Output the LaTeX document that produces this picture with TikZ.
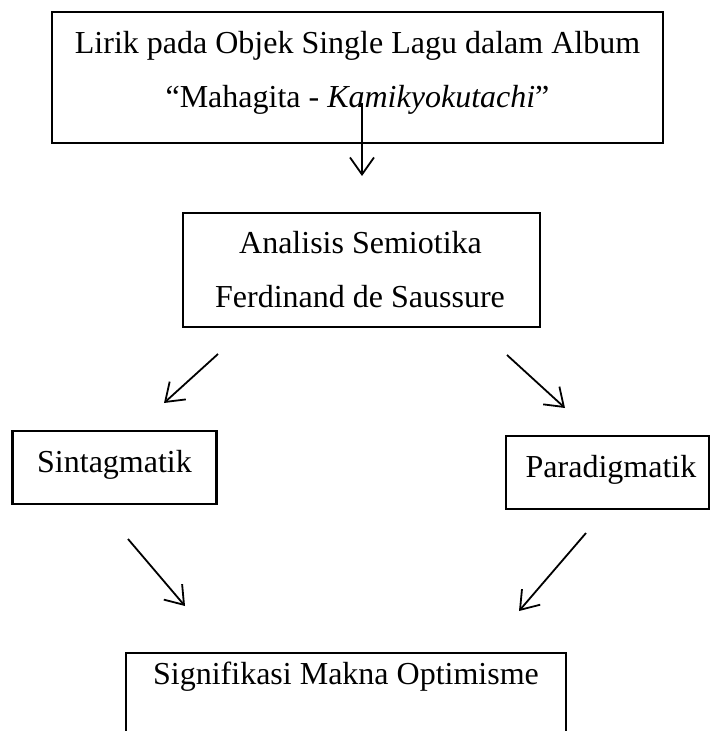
\documentclass[tikz,border=0pt]{standalone}
\usepackage{fontspec}
\setmainfont{Liberation Serif}
\usetikzlibrary{arrows.meta}
\begin{document}
\begin{tikzpicture}[x=1pt,y=-1pt,
  boxframe/.style={draw=black, line width=2.4pt, inner sep=0pt},
  label/.style={anchor=base, inner sep=0pt, font=\fontsize{32}{38}\selectfont},
  conn/.style={line width=1.8pt, -{Straight Barb[length=17pt,width=24pt,line width=1.8pt]}}]
\clip (0,0) rectangle (710,731);
\useasboundingbox (0,0) rectangle (710,731);
% boxes
\node[boxframe, minimum width=611pt, minimum height=131pt] (topbox) at (357.5,77.5) {};
\node[boxframe, minimum width=357pt, minimum height=114pt] (analisis) at (361.5,270) {};
\node[boxframe, minimum width=204pt, minimum height=73pt] (sint) at (114.5,467.5) {};
\node[boxframe, minimum width=203pt, minimum height=73pt] (para) at (607.5,472.5) {};
\node[boxframe, minimum width=440pt, minimum height=120pt] (sign) at (346,713) {};
% texts
\node[label] (t1) at (357.5,53) {Lirik pada Objek Single Lagu dalam Album};
\node[label] (t2) at (357.5,107) {“Mahagita - \textit{Kamikyokutachi}”};
\node[label] (t3) at (360.5,253) {Analisis Semiotika};
\node[label] (t4) at (360,307) {Ferdinand de Saussure};
\node[label] (t5) at (114.5,472) {Sintagmatik};
\node[label] (t6) at (611,477) {Paradigmatik};
\node[label] (t7) at (346,684) {Signifikasi Makna Optimisme};
% connector end points
\coordinate (a1s) at (362,103);
\coordinate (a1e) at (362,176);
\coordinate (a2s) at (218,354);
\coordinate (a2e) at (164,403);
\coordinate (a3s) at (507,355);
\coordinate (a3e) at (565,408);
\coordinate (a4s) at (128,539);
\coordinate (a4e) at (185,606);
\coordinate (a5s) at (586,533);
\coordinate (a5e) at (519,611);
\draw[conn] (a1s) -- (a1e);
\draw[conn] (a2s) -- (a2e);
\draw[conn] (a3s) -- (a3e);
\draw[conn] (a4s) -- (a4e);
\draw[conn] (a5s) -- (a5e);
\end{tikzpicture}
\end{document}
